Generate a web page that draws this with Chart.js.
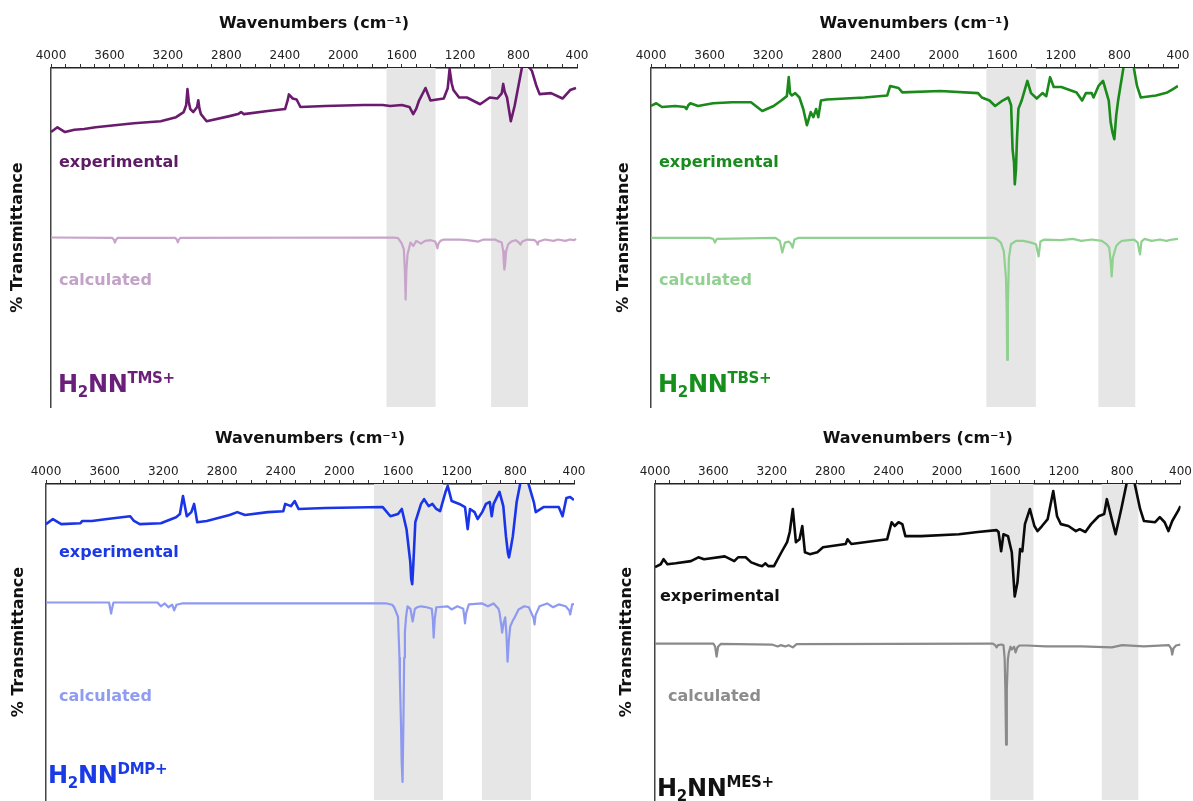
<!DOCTYPE html>
<html><head><meta charset="utf-8">
<script src="https://cdn.jsdelivr.net/npm/chart.js@4.4.1/dist/chart.umd.min.js"></script>
<style>
body{margin:0;background:#fff;width:1193px;height:801px;overflow:hidden;position:relative;font-family:"DejaVu Sans",sans-serif;}
.panel{position:absolute;}
.lbl{position:absolute;font-weight:bold;font-size:16px;line-height:1;white-space:nowrap;transform:translateY(-50%);}
.name{position:absolute;font-weight:bold;font-size:24px;line-height:1;white-space:nowrap;transform:translateY(-50%);letter-spacing:-0.3px;}
.name .sb{font-size:15px;position:relative;top:5px;}
.name .sp{font-size:15px;position:relative;top:-9px;}
</style></head><body>
<div class="panel" style="left:0;top:0"><canvas id="c1" width="600" height="410"></canvas></div>
<div class="panel" style="left:600px;top:0"><canvas id="c2" width="593" height="410"></canvas></div>
<div class="panel" style="left:0;top:410px"><canvas id="c3" width="600" height="391"></canvas></div>
<div class="panel" style="left:600px;top:410px"><canvas id="c4" width="593" height="391"></canvas></div>

<div class="lbl" style="left:59px;top:162px;color:#5c1b64">experimental</div>
<div class="lbl" style="left:59px;top:280px;color:#c3a2c7">calculated</div>
<div class="name" style="left:58px;top:384px;color:#6a1f7a">H<span class="sb">2</span>NN<span class="sp">TMS+</span></div>

<div class="lbl" style="left:659px;top:162px;color:#178c1c">experimental</div>
<div class="lbl" style="left:659px;top:280px;color:#92d092">calculated</div>
<div class="name" style="left:658px;top:384px;color:#178f1c">H<span class="sb">2</span>NN<span class="sp">TBS+</span></div>

<div class="lbl" style="left:59px;top:552px;color:#1a38e6">experimental</div>
<div class="lbl" style="left:59px;top:696px;color:#8f9cf0">calculated</div>
<div class="name" style="left:48px;top:775px;color:#1a3ae6">H<span class="sb">2</span>NN<span class="sp">DMP+</span></div>

<div class="lbl" style="left:660px;top:596px;color:#111">experimental</div>
<div class="lbl" style="left:668px;top:696px;color:#8c8c8c">calculated</div>
<div class="name" style="left:657px;top:788px;color:#111">H<span class="sb">2</span>NN<span class="sp">MES+</span></div>

<script>
// ---- axis ----
const tickLabels = [4000, 3600, 3200, 2800, 2400, 2000, 1600, 1200, 800, 400];
const xTitle = 'Wavenumbers (cm\u207B\u00B9)';
const yTitle = '% Transmittance';

// ---- shaded regions (cm-1) ----
const tmsBands = [[1704, 1368], [988, 735]];
const tbsBands = [[1709, 1371], [944, 692]];
const dmpBands = [[1764, 1293], [1027, 693]];
const mesBands = [[1703, 1408], [940, 689]];

// ---- H2NN TMS+ ----
const tmsExpWn = [4000,3956,3904,3840,3773,3695,3564,3432,3249,3144,3092,3075,3066,3057,3047,3026,3000,2992,2984,2974,2935,2778,2720,2699,2680,2516,2398,2380,2372,2346,2319,2293,2123,1861,1730,1678,1599,1547,1521,1500,1481,1437,1403,1312,1285,1272,1258,1246,1207,1154,1063,997,945,915,905,895,879,853,827,774,740,708,680,656,578,499,447,407];
const tmsExpT = [81.1,82.5,81.1,81.8,82.0,82.5,83.1,83.7,84.3,85.5,87.0,89.0,93.8,90.0,87.9,87.0,88.5,90.5,88.0,86.4,84.3,85.8,86.4,87.0,86.4,87.3,87.9,90.5,92.2,91.0,90.7,88.5,88.8,89.1,89.1,88.8,89.1,88.5,86.4,88.0,90.4,94.1,90.4,91.0,94.0,99.7,95.5,93.5,91.3,91.3,89.3,91.3,91.0,92.5,95.3,93.0,91.3,84.3,88.8,100.8,101,99.1,95,92.3,92.6,91.0,93.5,94.1];
const tmsCalcWn = [4000,3580,3568,3563,3556,3545,3150,3138,3132,3126,3115,1660,1625,1600,1585,1578,1573,1568,1560,1552,1540,1520,1500,1468,1440,1400,1370,1362,1355,1348,1335,1311,1200,1150,1075,1040,960,944,915,905,900,897,892,885,871,850,820,800,787,775,740,690,675,669,662,620,560,530,480,450,420,407];
const tmsCalcT = [50.0,49.9,49.2,48.5,49.2,49.9,49.9,49.3,48.6,49.3,49.9,50.0,49.8,48.3,46.5,40,31.7,40,45,46.4,48.5,47.5,49.0,48.2,49.0,49.2,48.8,47.8,46.8,48.2,49.0,49.4,49.4,49.2,48.8,49.4,49.4,49.0,48.5,46,42,40.5,42,46,48.0,48.8,49.2,48.6,47.9,48.8,49.4,49.2,48.6,47.9,48.8,49.4,49.0,49.4,49.0,49.4,49.2,49.6];

// ---- H2NN TBS+ ----
const tbsExpWn = [4000,3964,3925,3834,3770,3757,3745,3731,3679,3576,3447,3317,3240,3162,3110,3072,3059,3050,3038,3015,2986,2960,2935,2909,2891,2872,2857,2839,2800,2541,2386,2366,2309,2283,2024,1766,1740,1688,1649,1598,1559,1540,1530,1520,1515,1507,1500,1490,1468,1429,1404,1365,1326,1300,1274,1249,1197,1093,1055,1029,990,977,943,912,873,860,848,835,822,809,770,705,680,654,550,473,434,400];
const tbsExpT = [88.8,89.6,88.5,88.8,88.5,87.9,89.0,89.6,88.8,89.6,89.9,89.9,87.3,88.8,90.4,91.7,97.3,92.5,91.9,92.6,91.3,87.9,83.1,87.0,85.5,87.9,85.5,90.4,90.7,91.3,91.9,94.7,94.1,92.8,93.2,92.6,91.3,90.4,88.8,90.4,91.3,89.0,76.0,72.0,65.7,70.0,79.0,88.0,90.4,96.2,92.6,91.0,92.6,91.7,97.3,94.4,94.4,92.8,90.4,92.6,92.6,91.3,94.7,96.2,90.4,84,81.1,79.0,86,90.4,100.8,100.8,94.7,91.3,91.9,92.8,93.8,94.7];
const tbsCalcWn = [4000,3600,3575,3563,3550,3150,3120,3103,3085,3060,3045,3033,3020,2990,1660,1640,1610,1590,1575,1570,1567,1562,1555,1541,1507,1456,1404,1370,1352,1340,1313,1200,1119,1060,990,920,887,870,860,853,845,822,800,783,700,675,665,659,650,628,580,524,480,440,400];
const tbsCalcT = [49.9,49.9,49.6,48.5,49.6,49.9,49.0,45.6,48.5,48.8,48.2,47.0,49.4,49.9,49.9,49.6,48.5,46,38,28,13.9,30,44,48.0,49.0,49.0,48.5,48.0,44.4,48.8,49.4,49.2,49.6,49.0,49.4,49.0,48.0,47.0,43,38.5,44,47.5,48.5,49.0,49.4,48.5,46,45.0,48.8,49.6,49.0,49.4,49.0,49.4,49.6];

// ---- H2NN DMP+ ----
const dmpExpWn = [4000,3953,3896,3765,3752,3687,3583,3426,3400,3361,3217,3113,3087,3066,3040,3009,2990,2969,2904,2748,2696,2643,2487,2382,2369,2330,2304,2278,2095,1704,1652,1600,1574,1542,1516,1510,1503,1495,1482,1443,1422,1391,1365,1339,1313,1274,1261,1234,1182,1143,1125,1109,1078,1057,1026,1000,974,961,948,908,882,864,850,843,830,817,791,765,713,674,661,608,504,478,452,426,400];
const dmpExpT = [87.3,88.9,87.3,87.6,88.3,88.3,88.9,89.8,88.3,87.3,87.6,89.5,90.5,96.2,89.8,91.1,93.7,87.9,88.3,90.2,91.1,90.2,91.1,91.4,93.7,93.0,94.6,92.1,92.4,92.7,89.8,90.5,92.1,85.7,75.2,70,68.3,75,87.9,93.7,95.2,93.0,93.7,92.1,91.4,97.8,99.4,94.6,93.7,92.7,85.7,92.1,91.1,88.9,91.1,93.7,94.3,89.8,93.7,97.5,93.0,83.5,78,76.8,80,83.5,94.3,100.5,100.5,94.3,91.1,92.7,92.7,89.8,95.6,95.9,94.9];
const dmpCalcWn = [4000,3570,3562,3556,3550,3540,3240,3217,3190,3165,3140,3126,3110,3074,1678,1640,1626,1600,1590,1587,1580,1575,1569,1563,1558,1553,1545,1535,1515,1500,1485,1469,1443,1404,1370,1362,1357,1350,1339,1261,1235,1195,1155,1148,1143,1136,1117,1026,987,948,915,908,895,890,880,869,860,853,845,835,815,804,778,739,708,675,669,662,635,583,543,504,457,432,426,418,413,400];
const dmpCalcT = [62.5,62.5,60.5,59.0,60.5,62.5,62.5,61.3,62.2,61.0,61.8,60.0,61.8,62.2,62.2,61.8,61.0,58,45,38.1,25,12,5.7,25,45,53.0,58,61.3,60.5,56.5,60.5,61.0,61.3,61.0,60.5,57,51.4,57,61.0,61.3,60.3,61.3,60.5,58,55.9,59,61.9,62.2,61.3,62.2,60.5,59.4,55,53.0,56,57.8,52,43.8,50,54.9,57,57.8,60.3,61.3,61.0,57.5,55.6,58.5,61.3,62.2,61.0,61.9,61.3,60,58.7,60.5,61.9,62.0];

// ---- H2NN MES+ ----
const mesExpWn = [4000,3961,3941,3915,3858,3754,3703,3664,3522,3457,3431,3379,3341,3289,3265,3245,3224,3185,3134,3095,3077,3056,3035,3010,2991,2973,2940,2888,2849,2694,2681,2655,2410,2379,2358,2332,2306,2285,2177,1918,1789,1660,1647,1629,1613,1582,1556,1536,1517,1499,1484,1466,1432,1401,1380,1349,1310,1272,1246,1220,1168,1117,1091,1052,1013,961,923,905,871,845,806,768,716,677,651,574,542,509,483,457,418,400];
const mesExpT = [73.7,74.6,76.2,74.6,74.9,75.6,76.8,76.2,77.1,75.6,76.8,76.8,75.2,74.3,74.0,74.9,74.0,74.0,78.4,81.6,84.8,92.1,81.6,82.5,86.7,78.4,77.8,78.4,80.0,81.0,82.5,81.0,82.5,87.9,86.7,87.9,87.3,83.5,83.5,84.1,84.8,85.4,84.8,78.7,84.1,83.5,78.4,64.4,68.9,79.4,78.7,87.3,92.1,86.7,85.1,86.7,88.9,97.8,89.8,87.3,86.7,85.1,85.7,84.8,87.3,89.8,90.5,95.2,88.9,84.1,92.1,100.5,100.5,92.1,88.3,87.9,89.5,87.9,85.1,88.3,91.4,93.0];
const mesCalcWn = [4000,3600,3588,3578,3568,3550,3200,3159,3140,3108,3085,3056,3030,1700,1686,1670,1660,1650,1625,1613,1605,1600,1595,1590,1583,1577,1565,1556,1540,1530,1518,1504,1453,1323,1220,1078,871,800,651,480,465,457,448,431,400];
const mesCalcT = [49.5,49.5,48.5,45.4,48.5,49.4,49.2,48.6,49.0,48.6,49.0,48.3,49.3,49.5,49.5,49.0,48.3,49.0,49.2,49.0,45,35,17.5,35,44.4,46.5,48.5,47.6,48.5,46.7,48.3,48.9,48.9,48.6,48.6,48.6,48.3,49.0,48.6,49.0,48.0,46.0,48.0,48.9,49.2];

const bandPlugin = {
  id: 'bands',
  beforeDatasetsDraw(chart, args, opts) {
    const {ctx, chartArea: {top, bottom}, scales: {x}} = chart;
    ctx.save();
    ctx.fillStyle = opts.color;
    for (const [a, b] of opts.ranges) {
      const p1 = x.getPixelForValue(a), p2 = x.getPixelForValue(b);
      ctx.fillRect(Math.min(p1, p2), top, Math.abs(p2 - p1), bottom - top);
    }
    ctx.restore();
  }
};

function pts(wn, t) { return wn.map((w, i) => ({x: w, y: t[i]})); }

function makePanel(id, p) {
  new Chart(document.getElementById(id), {
    type: 'line',
    data: {
      datasets: [
        {data: pts(p.expWn, p.expT), borderColor: p.expColor, borderWidth: 2.6, pointRadius: 0, tension: 0, borderJoinStyle: 'round'},
        {data: pts(p.calcWn, p.calcT), borderColor: p.calcColor, borderWidth: 2.2, pointRadius: 0, tension: 0, borderJoinStyle: 'round'}
      ]
    },
    options: {
      responsive: false, animation: false, devicePixelRatio: 1,
      layout: {padding: {left: 0, top: 0, right: p.padRight, bottom: p.padBottom}},
      plugins: {legend: {display: false}, tooltip: {enabled: false}, bands: {ranges: p.bands, color: '#e6e6e6'}},
      scales: {
        x: {
          type: 'linear', position: 'top', min: 400, max: 4000, reverse: true,
          afterFit: s => { s.height = p.axisH; },
          ticks: {stepSize: 100, autoSkip: false, maxRotation: 0, minRotation: 0, padding: 1, color: '#222',
                  font: {family: 'DejaVu Sans', size: 12},
                  callback: v => tickLabels.includes(v) ? String(v) : ''},
          grid: {drawOnChartArea: false, drawTicks: true, tickLength: 4, color: '#333'},
          border: {display: true, color: '#222', width: 1.5},
          title: {display: true, text: xTitle, color: '#111', font: {family: 'DejaVu Sans', size: 16, weight: 'bold'}, padding: {top: p.xTitlePad, bottom: 0}}
        },
        y: {
          type: 'linear', position: 'left', min: 0, max: 100,
          afterFit: s => { s.width = p.yW; },
          ticks: {display: false},
          grid: {drawOnChartArea: false, drawTicks: false},
          border: {display: true, color: '#444', width: 1.5},
          title: {display: true, text: yTitle, color: '#111', font: {family: 'DejaVu Sans', size: 16, weight: 'bold'}, padding: {top: p.yTitlePad, bottom: 0}}
        }
      }
    },
    plugins: [bandPlugin]
  });
}

makePanel('c1', {expWn: tmsExpWn, expT: tmsExpT, calcWn: tmsCalcWn, calcT: tmsCalcT, bands: tmsBands,
  expColor: '#6a1b6e', calcColor: '#c8a4cb', axisH: 68, yW: 51, padRight: 23, padBottom: 3, xTitlePad: 14, yTitlePad: 8});
makePanel('c2', {expWn: tbsExpWn, expT: tbsExpT, calcWn: tbsCalcWn, calcT: tbsCalcT, bands: tbsBands,
  expColor: '#1a8a1a', calcColor: '#90d090', axisH: 68, yW: 51, padRight: 15, padBottom: 3, xTitlePad: 14, yTitlePad: 14});
makePanel('c3', {expWn: dmpExpWn, expT: dmpExpT, calcWn: dmpCalcWn, calcT: dmpCalcT, bands: dmpBands,
  expColor: '#1a35e8', calcColor: '#8e9af0', axisH: 74, yW: 46, padRight: 26, padBottom: 1, xTitlePad: 19, yTitlePad: 9});
makePanel('c4', {expWn: mesExpWn, expT: mesExpT, calcWn: mesCalcWn, calcT: mesCalcT, bands: mesBands,
  expColor: '#0a0a0a', calcColor: '#8a8a8a', axisH: 74, yW: 55, padRight: 12, padBottom: 1, xTitlePad: 19, yTitlePad: 17});
</script>
</body></html>
